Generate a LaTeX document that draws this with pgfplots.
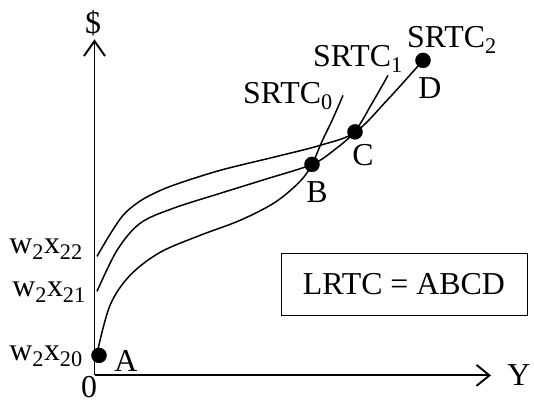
\documentclass[border=0pt]{standalone}
\usepackage{pgfplots}
\pgfplotsset{compat=1.18}
\usepackage{fontspec}
\setmainfont{Liberation Serif}
\usetikzlibrary{arrows.meta}
\begin{document}
\fontsize{32}{36}\selectfont
\begin{tikzpicture}
\begin{axis}[
  scale only axis, width=534bp, height=400bp,
  xmin=0, xmax=534, ymin=0, ymax=400,
  hide axis, clip=false,
  every node/.style={font=\fontsize{32}{36}\selectfont}
]
% bounding frame (invisible)
\addplot[draw=none] coordinates {(0,0) (534,400)};
% axes
\addplot[line width=1.9pt, -{Straight Barb[length=13bp, width=21bp, line width=1.9pt]}] coordinates {(94.5,28) (491,28)};
\addplot[line width=1.9pt, -{Straight Barb[length=15bp, width=21bp, line width=1.9pt]}] coordinates {(94.5,28) (94.5,364)};
% SRTC0
\addplot[line width=1.5pt, smooth, tension=0.55] coordinates {
(97,50) (110,98) (130,128) (160,151) (200,168) (240,183) (275,201) (300,222) (312,239) (322,262) (333,285) (343,308)};
% SRTC1
\addplot[line width=1.5pt, smooth, tension=0.55] coordinates {
(97,112) (117,153) (140,180) (173,195) (220,210) (265,224) (312,239) (335,254) (355,272) (372,300) (388,328)};
% SRTC2
\addplot[line width=1.5pt, smooth, tension=0.55] coordinates {
(97,147) (110,169) (123,188) (136,199.5) (150,208) (173,218) (220,233) (277,247) (320,258) (355,271) (387,303) (423,343)};
% points A B C D
\addplot[only marks, mark=*, mark size=7.5bp, fill=black] coordinates {(99,48) (312,239) (355,271.5) (423,343)};
% labels
\node[anchor=center] at (axis cs:93,380) {\$};
\node[anchor=base, inner sep=0pt] at (axis cs:519,18) {Y};
\node[anchor=base, inner sep=0pt] at (axis cs:89,6) {0};
\node[anchor=base, inner sep=0pt] at (axis cs:126,32) {A};
\node[anchor=base, inner sep=0pt] at (axis cs:317,201) {B};
\node[anchor=base, inner sep=0pt] at (axis cs:363,238) {C};
\node[anchor=base, inner sep=0pt] at (axis cs:430,305) {D};
\node[anchor=base west, inner sep=0pt] at (axis cs:243,300) {SRTC\textsubscript{0}};
\node[anchor=base west, inner sep=0pt] at (axis cs:313,337) {SRTC\textsubscript{1}};
\node[anchor=base west, inner sep=0pt] at (axis cs:407,356) {SRTC\textsubscript{2}};
\node[anchor=base east, inner sep=0pt] at (axis cs:83,150) {w\textsubscript{2}x\textsubscript{22}};
\node[anchor=base east, inner sep=0pt] at (axis cs:86,107) {w\textsubscript{2}x\textsubscript{21}};
\node[anchor=base east, inner sep=0pt] at (axis cs:83,43) {w\textsubscript{2}x\textsubscript{20}};
\node[draw, line width=0.8pt, minimum width=246bp, minimum height=62bp, inner sep=0pt] at (axis cs:404,119) {LRTC = ABCD};
\end{axis}
\end{tikzpicture}
\end{document}
